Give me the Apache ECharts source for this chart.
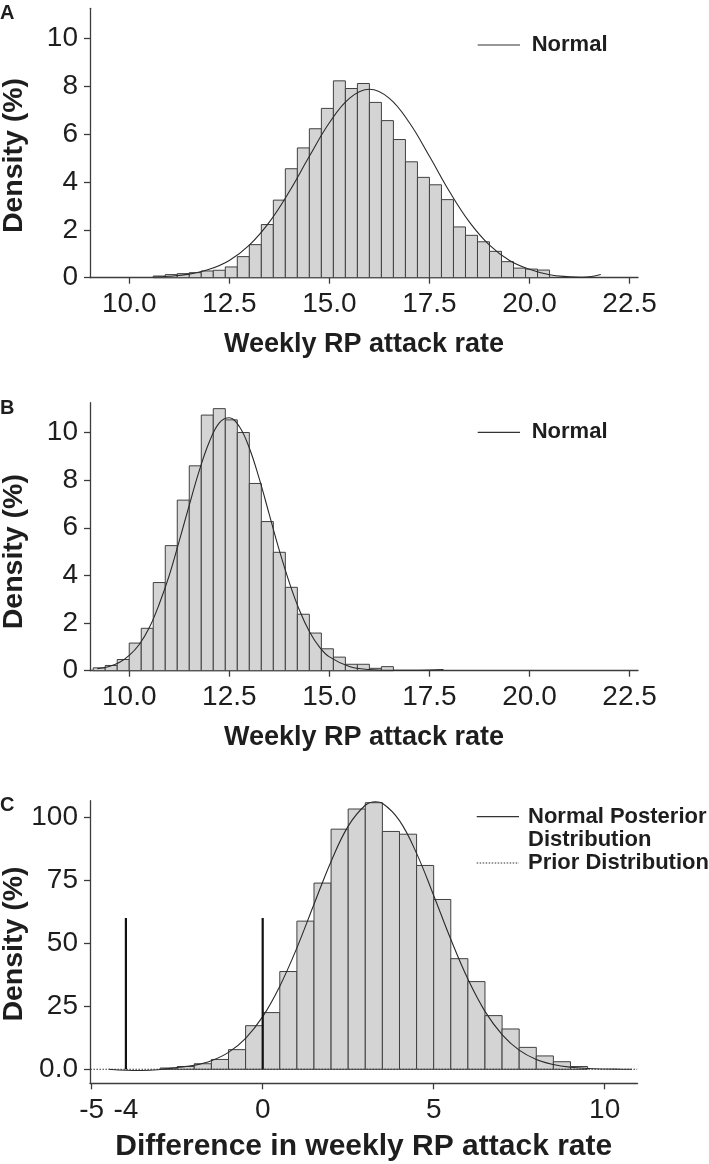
<!DOCTYPE html>
<html><head><meta charset="utf-8">
<script src="https://cdn.jsdelivr.net/npm/echarts@6/dist/echarts.min.js"></script>
<style>html,body{margin:0;padding:0;background:#fff}#c{width:709px;height:1164px}</style>
</head><body><div id="c"></div>
<script>
// ---------- data ----------
const binWidthAB = 0.3;
const binStartA = 10.6;
const densityA = [0.07,0.13,0.17,0.21,0.28,0.31,0.45,0.88,1.38,2.22,3.24,4.55,5.42,6.22,7.07,8.22,7.90,8.11,7.32,6.56,5.77,4.84,4.19,3.88,3.26,2.12,1.77,1.50,1.10,0.67,0.40,0.36,0.32];
const binStartB = 9.1;
const densityB = [0.12,0.22,0.47,1.16,1.78,3.70,5.25,7.16,8.60,10.73,11.0,10.53,10.0,7.86,6.26,4.97,3.50,2.37,1.58,0.92,0.57,0.27,0.27,0.10,0.17];
const binWidthC = 0.5;
const binStartC = -3.0;
const densityC = [0.5,1.1,2.2,3.9,7.8,17.3,22.5,38.8,58.8,73.9,95.3,103.3,105.8,94.4,93.3,80.9,67.4,43.9,34.8,21.3,16.0,8.7,5.3,3.0,1.1];

const normalAX = [10.6,11.0,11.5,12.0,12.5,13.0,13.5,14.0,14.5,15.0,15.5,16.0,16.5,17.0,17.5,18.0,18.5,19.0,19.5,20.0,20.5,21.0,21.3,21.55,21.78];
const normalAY = [0.03,0.06,0.15,0.35,0.72,1.36,2.32,3.60,5.07,6.47,7.49,7.87,7.49,6.47,5.07,3.60,2.32,1.36,0.72,0.35,0.12,0.04,0.02,0.05,0.13];

const normalBX = [9.2,9.5,9.75,10.0,10.25,10.5,10.75,11.0,11.25,11.5,11.75,12.0,12.25,12.5,12.75,13.0,13.25,13.5,13.75,14.0,14.25,14.5,14.75,15.0,15.5,16.0,16.5,17.0,17.5,17.85];
const normalBY = [0.08,0.18,0.34,0.64,1.1,1.8,2.8,4.0,5.45,6.95,8.4,9.6,10.4,10.62,10.25,9.35,8.05,6.55,5.05,3.7,2.55,1.65,1.0,0.58,0.18,0.05,0.02,0.02,0.03,0.05];

const normalCX = [-4.5,-4.0,-3.5,-3.0,-2.5,-2.0,-1.5,-1.0,-0.5,0,0.5,1.0,1.5,2.0,2.5,3.0,3.3,3.5,4.0,4.5,5.0,5.5,6.0,6.5,7.0,7.5,8.0,8.5,9.0,9.5,10.0,10.5,10.8];
const normalCY = [0,-0.4,-0.5,-0.1,0.7,1.6,3.4,6.7,12.3,20.9,33.0,48.2,65.5,82.5,96.5,104.8,106.2,105.6,98.7,85.7,69.0,51.6,35.8,23.0,13.8,7.6,3.9,1.9,0.83,0.34,0.12,0.04,0];

const priorX = [-5.3, 10.95];
const priorY = [0, 0];
const refLinesC = [-4, 0];
const refLineTop = 60;

const xTicksAB = [10, 12.5, 15, 17.5, 20, 22.5];
const yTicksAB = [0, 2, 4, 6, 8, 10];
const xTicksC = [-5, 0, 5, 10];
const xLabelsC = [-5, -4, 0, 5, 10];
const yTicksC = [0, 25, 50, 75, 100];

// ---------- helpers ----------
const FONT = 'Liberation Sans, Arial, Helvetica, sans-serif';
const AX = '#3c3c3c';
const TXT = '#1e1e1e';

function bins(start, width, vals) {
  return vals.map((v, i) => [start + i * width, start + (i + 1) * width, v]);
}
function pairs(xs, ys) { return xs.map((x, i) => [x, ys[i]]); }

function histRender(params, api) {
  const p0 = api.coord([api.value(0), api.value(2)]);
  const p1 = api.coord([api.value(1), 0]);
  return {
    type: 'rect',
    shape: { x: p0[0], y: p0[1], width: p1[0] - p0[0], height: p1[1] - p0[1] },
    style: { fill: '#d4d4d4', stroke: '#404040', lineWidth: 1 }
  };
}

function xAxisCfg(gi, min, max, ticks, labels, fmt, name, nameGap, nameSize) {
  return {
    type: 'value', gridIndex: gi, min: min, max: max,
    axisLine: { show: true, onZero: false, lineStyle: { color: AX, width: 1.3 } },
    axisTick: { show: true, length: 6, customValues: ticks, lineStyle: { color: AX, width: 1.3 } },
    axisLabel: { customValues: labels, formatter: fmt, fontSize: 28, color: TXT, fontFamily: FONT, margin: 13 },
    splitLine: { show: false },
    name: name, nameLocation: 'middle', nameGap: nameGap,
    nameTextStyle: { fontSize: nameSize, fontWeight: 'bold', color: TXT, fontFamily: FONT }
  };
}
function yAxisCfg(gi, min, max, ticks, fmt) {
  return {
    type: 'value', gridIndex: gi, min: min, max: max,
    axisLine: { show: true, onZero: false, lineStyle: { color: AX, width: 1.3 } },
    axisTick: { show: true, length: 6, customValues: ticks, lineStyle: { color: AX, width: 1.3 } },
    axisLabel: { customValues: ticks, formatter: fmt, fontSize: 28, color: TXT, fontFamily: FONT, margin: 12 },
    splitLine: { show: false }
  };
}

function legendLine(x1, x2, y, dotted) {
  return { type: 'line', shape: { x1: x1, y1: y, x2: x2, y2: y },
    style: { stroke: '#333', lineWidth: 1.2, lineDash: dotted ? [1.5, 1.5] : null } };
}
function txt(x, y, s, size) {
  return { type: 'text', x: x, y: y,
    style: { text: s, font: 'bold ' + size + 'px ' + FONT, fill: TXT, textAlign: 'left', textVerticalAlign: 'middle' } };
}
function ytitle(y) {
  return { type: 'text', x: 14, y: y, rotation: Math.PI / 2,
    style: { text: 'Density (%)', font: 'bold 28.5px ' + FONT, fill: TXT, textAlign: 'center', textVerticalAlign: 'middle' } };
}

const fmt1 = v => v.toFixed(1);
const fmtInt = v => String(v);
const fmtC = v => (v === 0 ? '0.0' : String(v));

const series = [
  { type: 'custom', xAxisIndex: 0, yAxisIndex: 0, renderItem: histRender, data: bins(binStartA, binWidthAB, densityA), encode: { x: [0, 1], y: 2 } },
  { type: 'line', xAxisIndex: 0, yAxisIndex: 0, data: pairs(normalAX, normalAY), smooth: 0.4, symbol: 'none', lineStyle: { color: '#2a2a2a', width: 1.1 }, z: 5 },
  { type: 'custom', xAxisIndex: 1, yAxisIndex: 1, renderItem: histRender, data: bins(binStartB, binWidthAB, densityB), encode: { x: [0, 1], y: 2 } },
  { type: 'line', xAxisIndex: 1, yAxisIndex: 1, data: pairs(normalBX, normalBY), smooth: 0.4, symbol: 'none', lineStyle: { color: '#2a2a2a', width: 1.1 }, z: 5 },
  { type: 'custom', xAxisIndex: 2, yAxisIndex: 2, renderItem: histRender, data: bins(binStartC, binWidthC, densityC), encode: { x: [0, 1], y: 2 } },
  { type: 'line', xAxisIndex: 2, yAxisIndex: 2, data: pairs(priorX, priorY), symbol: 'none', clip: false, lineStyle: { color: '#333', width: 1.1, type: [1.5, 1.5] }, z: 4 },
  { type: 'line', xAxisIndex: 2, yAxisIndex: 2, data: pairs(normalCX, normalCY), smooth: 0.4, symbol: 'none', lineStyle: { color: '#2a2a2a', width: 1.1 }, z: 5 }
];
refLinesC.forEach(v => {
  series.push({ type: 'line', xAxisIndex: 2, yAxisIndex: 2, data: [[v, 0], [v, refLineTop]], symbol: 'none', lineStyle: { color: '#111', width: 2.2 }, z: 6 });
});

const option = {
  animation: false,
  backgroundColor: '#fff',
  grid: [
    { left: 90, right: 71, top: 8.3, bottom: 886.3 },
    { left: 90, right: 71, top: 402.7, bottom: 493.3 },
    { left: 90, right: 71.5, top: 800.7, bottom: 80.7 }
  ],
  xAxis: [
    xAxisCfg(0, 9.02, 22.71, xTicksAB, xTicksAB, fmt1, 'Weekly RP attack rate', 53, 27),
    xAxisCfg(1, 9.02, 22.71, xTicksAB, xTicksAB, fmt1, 'Weekly RP attack rate', 53, 27),
    xAxisCfg(2, -5.05, 10.96, xTicksC, xLabelsC, fmtInt, 'Difference in weekly RP attack rate', 48, 30)
  ],
  yAxis: [
    yAxisCfg(0, 0, 11.25, yTicksAB, fmtInt),
    yAxisCfg(1, 0, 11.25, yTicksAB, fmtInt),
    yAxisCfg(2, -5.56, 106.6, yTicksC, fmtC)
  ],
  series: series,
  graphic: [
    txt(0, 13, 'A', 20),
    txt(0, 408, 'B', 20),
    txt(0, 805, 'C', 20),
    ytitle(155.5), ytitle(551.7), ytitle(944),
    legendLine(477.7, 520, 45, false), txt(531.7, 45, 'Normal', 22),
    legendLine(477.7, 520, 432.3, false), txt(531.7, 432.3, 'Normal', 22),
    legendLine(476.7, 519, 816.7, false), txt(528, 817, 'Normal Posterior', 22),
    txt(528, 840, 'Distribution', 22),
    legendLine(476.7, 519, 863, true), txt(528, 863, 'Prior Distribution', 22)
  ]
};
const chart = echarts.init(document.getElementById('c'), null, { renderer: 'canvas' });
chart.setOption(option);
</script></body></html>
